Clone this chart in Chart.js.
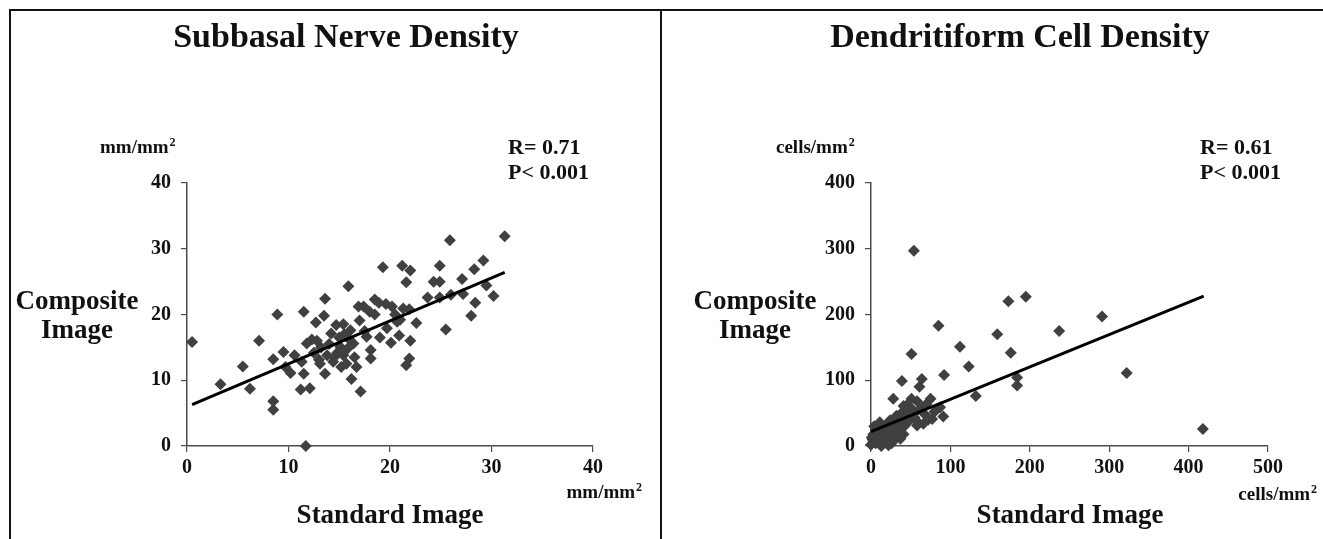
<!DOCTYPE html>
<html>
<head>
<meta charset="utf-8">
<script src="https://cdn.jsdelivr.net/npm/chart.js@4"></script>
<style>
  html, body { margin: 0; padding: 0; background: #fff; }
  #page { position: relative; width: 1323px; height: 539px; overflow: hidden; }
  #page canvas { position: absolute; left: 0; top: 0; }
  .rule { position: absolute; background: #111; }
</style>
</head>
<body>
<div id="page">
  <div class="rule" style="left:9px;top:9px;width:1314px;height:2px"></div>
  <div class="rule" style="left:9px;top:9px;width:2px;height:530px"></div>
  <div class="rule" style="left:660px;top:9px;width:2px;height:530px"></div>
  <canvas id="nerve" width="1323" height="539"></canvas>
  <canvas id="dc" width="1323" height="539"></canvas>
</div>
<script>
// Subbasal nerve density, mm/mm2 (standard image vs composite image)
const nerveX = [0.5, 3.3, 5.5, 6.2, 7.1, 8.5, 8.5, 8.5, 8.9, 9.5, 9.7, 10.2, 10.6, 11.2, 11.5, 12.1,
  11.7, 11.3, 11.5, 11.8, 12.3, 12.7, 12.8, 13.5, 13.6, 13.6, 13.0, 13.1, 13.8, 14.2, 14.4, 14.7,
  15.4, 15.1, 15.4, 15.7, 15.9, 16.1, 16.2, 16.4, 16.7, 16.9, 17.1, 17.0, 17.4, 17.7, 18.0, 18.1,
  18.1, 18.5, 18.9, 19.3, 19.6, 19.7, 20.1, 20.2, 20.7, 20.9, 21.2, 21.3, 21.6, 21.9, 22.0, 21.9,
  21.6, 22.0, 22.6, 23.7, 24.3, 24.9, 24.9, 24.9, 25.5, 25.9, 26.0, 27.1, 27.2, 28.0, 28.3, 28.4,
  29.2, 29.5, 30.2, 31.3, 14.0, 14.8, 15.0, 15.8, 16.5, 14.5, 15.2, 13.2, 12.5, 17.5, 16.0, 15.5,
  19.0, 18.5, 20.5, 21.0];
const nerveY = [15.8, 9.4, 12.1, 8.7, 16.0, 13.2, 6.8, 5.5, 20.0, 14.3, 12.0, 11.1, 13.8, 8.6, 20.4, 8.8,
  0.0, 12.8, 11.0, 15.6, 16.2, 18.8, 16.0, 19.8, 22.4, 11.0, 13.1, 12.5, 13.8, 17.1, 12.8, 18.4,
  18.5, 15.1, 13.8, 12.5, 24.3, 17.6, 10.2, 15.6, 12.0, 21.2, 8.3, 19.1, 21.2, 16.6, 20.4, 14.6,
  13.3, 22.3, 21.8, 27.2, 21.6, 17.9, 15.7, 21.2, 18.9, 16.8, 27.4, 20.9, 24.9, 20.8, 16.0, 13.3,
  12.3, 26.7, 18.7, 22.6, 25.0, 27.4, 25.0, 22.6, 17.7, 31.3, 23.0, 25.4, 23.1, 19.8, 26.9, 21.8,
  28.2, 24.4, 22.8, 31.9, 15.5, 14.2, 16.5, 14.8, 13.5, 13.5, 12.0, 15.0, 14.2, 17.5, 16.2, 17.0,
  16.5, 20.0, 20.0, 19.2];
const nerveFitX = [0.5, 31.3];
const nerveFitY = [6.3, 26.4];
const nerveTicks = [0, 10, 20, 30, 40];

// Dendritiform cell density, cells/mm2
const dcX = [54, 173, 195, 85, 159, 237, 112, 51, 176, 123, 92, 184, 184, 39, 64, 61, 132, 28, 51, 41,
  75, 70, 87, 91, 77, 62, 54, 45, 32, 66, 58, 37, 24, 11, 41, 37, 28, 20, 7, 3, 3, 11, 22, 16, 1, 9,
  18, 28, 291, 322, 418, 0, 2, 5, 8, 12, 14, 6, 10, 15, 18, 20, 25, 30, 33, 35, 42, 48, 55, 60, 68,
  72, 80, 50, 44, 26, 13, 4, 22, 30, 38, 45, 58, 65];
const dcY = [297, 220, 227, 183, 170, 175, 151, 140, 142, 121, 108, 104, 92, 99, 102, 90, 76, 72, 72, 61,
  72, 64, 59, 45, 41, 56, 49, 41, 46, 34, 31, 34, 39, 36, 18, 11, 18, 23, 26, 18, 6, 3, 1, 13, 13, 8,
  6, 8, 197, 111, 26, 2, 10, 15, 20, 28, 12, 4, 14, 20, 30, 10, 28, 25, 15, 24, 30, 38, 43, 35, 48,
  40, 52, 58, 52, 4, 0, 30, 16, 35, 50, 62, 68, 58];
const dcFitX = [0, 419];
const dcFitY = [22, 228];
const dcTicksX = [0, 100, 200, 300, 400, 500];
const dcTicksY = [0, 100, 200, 300, 400];

const SERIF = '"Liberation Serif", "Times New Roman", serif';
const INK = '#111';
const AXIS = '#4a4a4a';
const DOT = '#404040';

function pts(xs, ys) { return xs.map((x, i) => ({ x, y: ys[i] })); }

// free text (titles, units, stats) drawn in page coordinates
function textPlugin(items) {
  return {
    id: 'labels',
    afterDraw(chart) {
      const ctx = chart.ctx;
      ctx.save();
      ctx.fillStyle = INK;
      ctx.textBaseline = 'middle';
      items.forEach(t => {
        ctx.font = 'bold ' + t.size + 'px ' + SERIF;
        ctx.textAlign = t.align || 'left';
        if (t.sup) {
          // trailing superscript 2
          const w = ctx.measureText(t.text).width;
          const sw = ctx.measureText('2').width * 0.62;
          let x0 = t.x;
          if (t.align === 'center') x0 = t.x - (w + sw) / 2;
          if (t.align === 'right') x0 = t.x - (w + sw);
          ctx.textAlign = 'left';
          ctx.fillText(t.text, x0, t.y);
          ctx.font = 'bold ' + Math.round(t.size * 0.62) + 'px ' + SERIF;
          ctx.fillText('2', x0 + w + 1, t.y - t.size * 0.28);
        } else {
          ctx.fillText(t.text, t.x, t.y);
        }
      });
      ctx.restore();
    }
  };
}

function makeChart(id, cfg) {
  const area = cfg.area;
  const W = 1323, H = 539;
  return new Chart(document.getElementById(id), {
    type: 'scatter',
    data: {
      datasets: [
        {
          type: 'line',
          data: pts(cfg.fitX, cfg.fitY),
          borderColor: '#000',
          borderWidth: 3,
          pointRadius: 0,
          clip: false,
          order: 0
        },
        {
          data: pts(cfg.xs, cfg.ys),
          pointStyle: 'rectRot',
          pointRadius: 6,
          backgroundColor: DOT,
          borderColor: DOT,
          borderWidth: 0,
          clip: false,
          order: 1
        }
      ]
    },
    options: {
      responsive: false,
      animation: false,
      events: [],
      layout: { padding: { left: 0, top: area.top, right: W - area.right, bottom: 0 } },
      plugins: { legend: { display: false }, tooltip: { enabled: false } },
      scales: {
        x: {
          type: 'linear',
          min: cfg.xTicks[0], max: cfg.xTicks[cfg.xTicks.length - 1],
          afterBuildTicks: s => { s.ticks = cfg.xTicks.map(v => ({ value: v })); },
          afterFit: s => { s.height = H - area.bottom; },
          grid: { drawOnChartArea: false, drawTicks: true, tickLength: 6, color: AXIS, lineWidth: 1.2 },
          border: { display: true, color: AXIS, width: 1.5 },
          ticks: { color: INK, padding: 4, font: { family: SERIF, size: 20, weight: 'bold' } }
        },
        y: {
          type: 'linear',
          min: cfg.yTicks[0], max: cfg.yTicks[cfg.yTicks.length - 1],
          afterBuildTicks: s => { s.ticks = cfg.yTicks.map(v => ({ value: v })); },
          afterFit: s => { s.width = area.left; },
          grid: { drawOnChartArea: false, drawTicks: true, tickLength: 6, color: AXIS, lineWidth: 1.2 },
          border: { display: true, color: AXIS, width: 1.5 },
          ticks: { color: INK, padding: 10, font: { family: SERIF, size: 20, weight: 'bold' } }
        }
      }
    },
    plugins: [textPlugin(cfg.text)]
  });
}

makeChart('nerve', {
  xs: nerveX, ys: nerveY, fitX: nerveFitX, fitY: nerveFitY,
  xTicks: nerveTicks, yTicks: nerveTicks,
  area: { left: 187, right: 593, top: 183, bottom: 446 },
  text: [
    { text: 'Subbasal Nerve Density', x: 346, y: 38, size: 34, align: 'center' },
    { text: 'mm/mm', x: 100, y: 148, size: 19, sup: true },
    { text: 'R= 0.71', x: 508, y: 148, size: 22 },
    { text: 'P< 0.001', x: 508, y: 173, size: 22 },
    { text: 'Composite', x: 77, y: 302, size: 27, align: 'center' },
    { text: 'Image', x: 77, y: 331, size: 27, align: 'center' },
    { text: 'mm/mm', x: 641, y: 493, size: 19, align: 'right', sup: true },
    { text: 'Standard Image', x: 390, y: 516, size: 27, align: 'center' }
  ]
});

makeChart('dc', {
  xs: dcX, ys: dcY, fitX: dcFitX, fitY: dcFitY,
  xTicks: dcTicksX, yTicks: dcTicksY,
  area: { left: 871, right: 1268, top: 183, bottom: 446 },
  text: [
    { text: 'Dendritiform Cell Density', x: 1020, y: 38, size: 34, align: 'center' },
    { text: 'cells/mm', x: 776, y: 148, size: 19, sup: true },
    { text: 'R= 0.61', x: 1200, y: 148, size: 22 },
    { text: 'P< 0.001', x: 1200, y: 173, size: 22 },
    { text: 'Composite', x: 755, y: 302, size: 27, align: 'center' },
    { text: 'Image', x: 755, y: 331, size: 27, align: 'center' },
    { text: 'cells/mm', x: 1316, y: 495, size: 19, align: 'right', sup: true },
    { text: 'Standard Image', x: 1070, y: 516, size: 27, align: 'center' }
  ]
});
</script>
</body>
</html>
